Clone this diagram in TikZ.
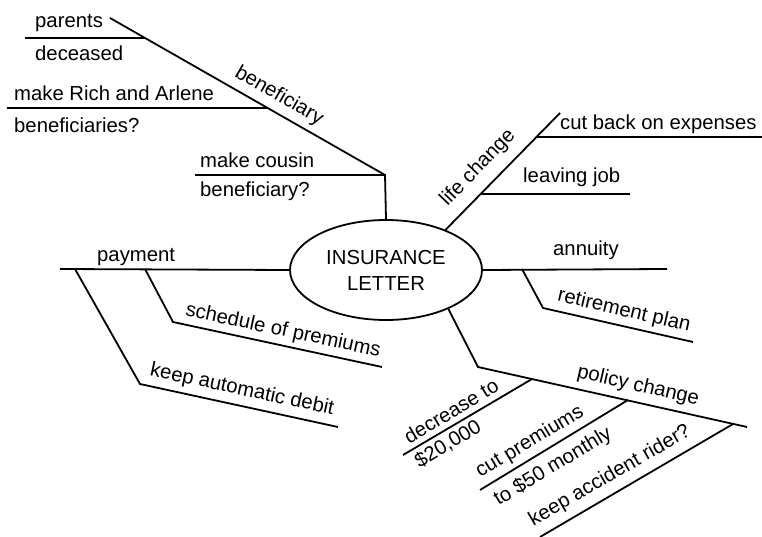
\documentclass[tikz,border=0pt]{standalone}
\usepackage{fontspec}
\setmainfont{Liberation Sans}
\usetikzlibrary{shapes.geometric}

\begin{document}
\begin{tikzpicture}[
        x=1pt, y=-1pt,
        branch/.style={line width=1.8pt},
        leaf/.style={inner sep=0pt, anchor=base west},
        tilted/.style={inner sep=0pt}
    ]

    \tikzstyle{every node}=[font=\fontsize{20.3}{26}\selectfont]

    \useasboundingbox (0,0) rectangle (762,537);

    \node (root) [ellipse, draw, branch, minimum width=192pt, minimum height=100pt, align=center] at (386,270) {INSURANCE\\LETTER};

    % beneficiary
    \coordinate (benKnee) at (385,175);
    \coordinate (benEnd) at (110,18);
    \coordinate (parStart) at (25,38);
    \coordinate (parJoin) at (145,38);
    \coordinate (richStart) at (7,108);
    \coordinate (richJoin) at (267,108);
    \coordinate (cousinStart) at (195,175);
    \draw[branch] (root.north) -- (benKnee) -- (benEnd);
    \draw[branch] (parStart) -- (parJoin);
    \draw[branch] (richStart) -- (richJoin);
    \draw[branch] (cousinStart) -- (benKnee);
    \node (beneficiary) [tilted, rotate=-30] at (279,96) {beneficiary};
    \node (parents) [leaf] at (35,28) {parents};
    \node (deceased) [leaf] at (35,61) {deceased};
    \node (rich) [leaf] at (14,101) {make Rich and Arlene};
    \node (richQ) [leaf] at (14,133) {beneficiaries?};
    \node (cousin) [leaf] at (200,168) {make cousin};
    \node (cousinQ) [leaf] at (200,197) {beneficiary?};

    % life change
    \coordinate (lifeEnd) at (560,113);
    \coordinate (cutJoin) at (537,137);
    \coordinate (cutEnd) at (762,137);
    \coordinate (jobJoin) at (481,194);
    \coordinate (jobEnd) at (630,194);
    \draw[branch] (root.34) -- (lifeEnd);
    \draw[branch] (cutJoin) -- (cutEnd);
    \draw[branch] (jobJoin) -- (jobEnd);
    \node (life) [tilted, rotate=46] at (478,168) {life change};
    \node (cutback) [leaf] at (560,130) {cut back on expenses};
    \node (job) [leaf] at (523,183) {leaving job};

    % annuity
    \coordinate (annEnd) at (667,269);
    \coordinate (retJoin) at (522,269);
    \coordinate (retKnee) at (543,308);
    \coordinate (retEnd) at (693,342);
    \draw[branch] (root.east) -- (annEnd);
    \draw[branch] (retJoin) -- (retKnee) -- (retEnd);
    \node (annuity) [leaf] at (553,255) {annuity};
    \node (retirement) [tilted, rotate=-13] at (624,311) {retirement plan};

    % payment
    \coordinate (payEnd) at (60,269);
    \coordinate (schJoin) at (145,269);
    \coordinate (schKnee) at (173,322);
    \coordinate (schEnd) at (382,367);
    \coordinate (debJoin) at (75,269);
    \coordinate (debKnee) at (140,384);
    \coordinate (debEnd) at (338,427);
    \draw[branch] (root.west) -- (payEnd);
    \draw[branch] (schJoin) -- (schKnee) -- (schEnd);
    \draw[branch] (debJoin) -- (debKnee) -- (debEnd);
    \node (payment) [leaf] at (97,261) {payment};
    \node (schedule) [tilted, rotate=-12] at (283,331) {schedule of premiums};
    \node (debit) [tilted, rotate=-12] at (242,390) {keep automatic debit};

    % policy change
    \coordinate (polKnee) at (478,367);
    \coordinate (polEnd) at (747,427);
    \coordinate (decJoin) at (532,379);
    \coordinate (decEnd) at (403,455);
    \coordinate (premJoin) at (628,400);
    \coordinate (premEnd) at (480,490);
    \coordinate (riderJoin) at (733,424);
    \coordinate (riderEnd) at (540,537);
    \draw[branch] (root.-32) -- (polKnee) -- (polEnd);
    \draw[branch] (decJoin) -- (decEnd);
    \draw[branch] (premJoin) -- (premEnd);
    \draw[branch] (riderJoin) -- (riderEnd);
    \node (policy) [tilted, rotate=-13] at (638,386) {policy change};
    \node (decrease) [tilted, rotate=31] at (451,411) {decrease to};
    \node (amount) [tilted, rotate=31] at (448,444) {\$20,000};
    \node (premiums) [tilted, rotate=31] at (530,442) {cut premiums};
    \node (monthly) [tilted, rotate=31] at (553,467) {to \$50 monthly};
    \node (rider) [tilted, rotate=30] at (610,476) {keep accident rider?};

\end{tikzpicture}
\end{document}
